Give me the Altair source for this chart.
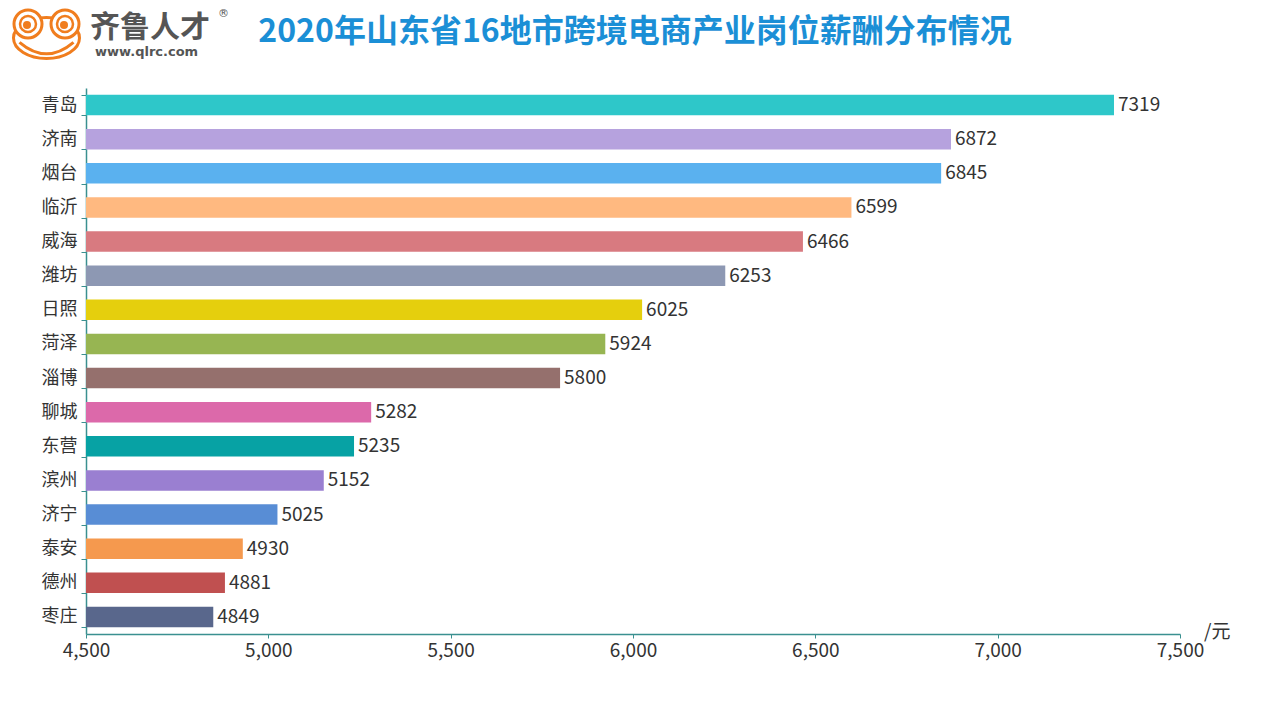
import altair as alt
import pandas as pd

cities = ["青岛", "济南", "烟台", "临沂", "威海", "潍坊", "日照", "菏泽",
          "淄博", "聊城", "东营", "滨州", "济宁", "泰安", "德州", "枣庄"]
salaries = [7319, 6872, 6845, 6599, 6466, 6253, 6025, 5924,
            5800, 5282, 5235, 5152, 5025, 4930, 4881, 4849]
colors = ["#2EC7C9", "#B6A2DE", "#5AB1EF", "#FFB980", "#D87A80", "#8D98B3",
          "#E5CF0D", "#97B552", "#95706D", "#DC69AA", "#07A2A4", "#9A7FD1",
          "#588DD5", "#F5994E", "#C05050", "#59678C"]
x_ticks = [4500, 5000, 5500, 6000, 6500, 7000, 7500]
x_min, x_max = 4500, 7500

title_text = "2020年山东省16地市跨境电商产业岗位薪酬分布情况"
FONT = "Noto Sans CJK SC"
AXIS_COLOR = "#3a9090"
ORANGE = "#F07D1E"

df = pd.DataFrame({"city": cities, "salary": salaries})

W, H = 1094, 546

x_scale = alt.Scale(domain=[x_min, x_max], zero=False, nice=False)
y_scale = alt.Scale(domain=cities, paddingInner=0.4, paddingOuter=0.2)
x_axis = alt.Axis(values=x_ticks, labelExpr="format(datum.value, ',')",
                  labelFont=FONT, labelFontSize=19, labelFlush=False,
                  labelColor="#333333", domainColor=AXIS_COLOR, domainWidth=1.5,
                  tickColor=AXIS_COLOR, tickSize=4, grid=False, labelPadding=3,
                  title=None)
y_axis = alt.Axis(labelFont=FONT, labelFontSize=18, labelColor="#333333",
                  domainColor=AXIS_COLOR, domainWidth=1.5,
                  tickColor=AXIS_COLOR, tickSize=5, tickBand="extent",
                  labelPadding=4, title=None)

bars = alt.Chart(df).mark_bar().encode(
    x=alt.X("salary:Q", scale=x_scale, axis=x_axis),
    x2=alt.datum(x_min),
    y=alt.Y("city:N", sort=cities, scale=y_scale, axis=y_axis),
    color=alt.Color("city:N", scale=alt.Scale(domain=cities, range=colors), legend=None),
)

labels = alt.Chart(df).mark_text(align="left", baseline="middle", dx=4,
                                 font=FONT, fontSize=19, color="#333333").encode(
    x=alt.X("salary:Q", scale=x_scale, axis=x_axis),
    y=alt.Y("city:N", sort=cities, scale=y_scale, axis=y_axis),
    text=alt.Text("salary:Q", format="d"),
)

one = pd.DataFrame({"a": [0]})


def text_at(t, x, y, **kw):
    return alt.Chart(pd.DataFrame({"t": [t]})).mark_text(**kw).encode(
        x=alt.value(x), y=alt.value(y), text="t:N")


unit = text_at("/元", W + 24, H - 2, align="left", baseline="middle", font=FONT,
               fontSize=19, color="#333333")

title = text_at(title_text, 549, -56, align="center", baseline="middle", font=FONT,
                fontSize=32, fontWeight="bold", color="#1B8FD6")

# logo (page coords minus plot origin 86, 88), shifted down a little to stay in page
LOGO_DY = 6


def px(v):
    return v - 86


def py(v):
    return v - 88 + LOGO_DY


def point_at(x, y, **kw):
    return alt.Chart(one).mark_point(opacity=1, **kw).encode(
        x=alt.value(px(x)), y=alt.value(py(y)))


logo = [
    point_at(46.5, 32, shape="M -1 0 A 1 0.62 0 1 0 1 0 A 1 0.62 0 1 0 -1 0 Z",
             filled=False, fill="white", fillOpacity=1, stroke=ORANGE, strokeWidth=3,
             size=66 * 66),
]
for ex in (28, 65):
    logo.append(point_at(ex, 18, shape="circle", filled=False, fill="white", fillOpacity=1,
                         stroke=ORANGE, strokeWidth=3, size=28 * 28))
    logo.append(point_at(ex, 18, shape="circle", filled=False, stroke=ORANGE,
                         strokeWidth=2.5, size=16 * 16))
    logo.append(point_at(ex - 1, 19, shape="circle", filled=True, color=ORANGE,
                         size=8 * 8))
logo.append(point_at(46.5, 39, shape="M -1 -0.1 Q 0 0.75 1 -0.1", filled=False,
                     stroke=ORANGE, strokeWidth=3, size=54 * 54))

brand = text_at("齐鲁人才", px(90), py(22), align="left", baseline="middle", font=FONT,
                fontSize=30, fontWeight="bold", color="#555555")
url = text_at("www.qlrc.com", px(95), py(46), align="left", baseline="middle",
              font="DejaVu Sans", fontSize=13, fontWeight="bold", color="#555555")
reg = text_at("®", px(218), py(8), align="left", baseline="middle",
              font="DejaVu Sans", fontSize=11, color="#555555")

chart = alt.layer(bars, labels, unit, title, *logo, brand, url, reg).properties(
    width=W, height=H,
    background="white",
    autosize=alt.AutoSizeParams(type="none"),
    padding={"left": 78, "top": 80, "right": 80, "bottom": 60},
).configure_view(strokeWidth=0, stroke="transparent").configure_axisX(
    labelFontSize=19, labelFont=FONT, labelColor="#333333"
)

chart.save("out.html", embed_options={"renderer": "svg", "actions": False})
